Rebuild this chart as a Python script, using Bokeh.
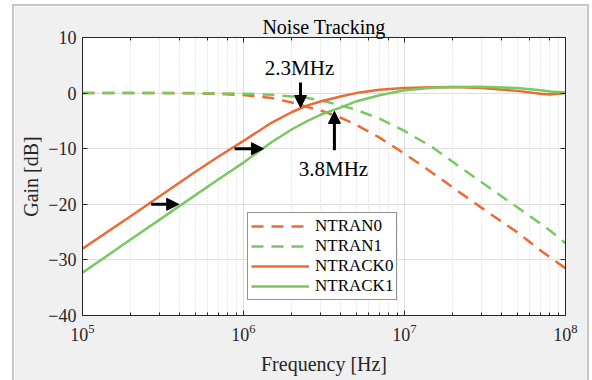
from bokeh.plotting import figure
from bokeh.models import (Range1d, FixedTicker, LinearAxis, LogAxis, Legend, LegendItem,
                          Arrow, NormalHead, Label)
from bokeh.embed import file_html
from bokeh.resources import INLINE

# ---- data ----
freq_hz = [1e5, 2e5, 3e5, 5e5, 7e5, 1e6, 1.5e6, 2e6, 2.5e6, 3e6, 4e6, 5e6, 7e6,
           1e7, 1.5e7, 2e7, 3e7, 5e7, 7e7, 8e7, 1e8]
ntran0 = [0.0, 0.0, 0.0, -0.05, -0.15, -0.35, -0.9, -1.7, -2.5, -3.1, -4.4, -5.7, -8.0,
          -10.9, -14.4, -17.0, -20.6, -25.0, -28.3, -29.5, -31.5]
ntran1 = [0.0, 0.0, 0.0, 0.0, -0.05, -0.1, -0.3, -0.6, -0.9, -1.3, -2.2, -3.0, -4.6,
          -6.8, -9.8, -12.4, -16.0, -20.5, -23.5, -24.7, -27.0]
ntrack0 = [-28.0, -22.1, -18.6, -14.2, -11.4, -8.6, -5.3, -3.4, -2.2, -1.5, -0.6, 0.0, 0.6,
           0.9, 1.05, 1.1, 0.9, 0.4, -0.1, -0.25, 0.0]
ntrack1 = [-32.3, -26.3, -22.8, -18.4, -15.5, -12.5, -8.8, -6.5, -5.0, -3.9, -2.6, -1.5, -0.4,
           0.5, 0.95, 1.1, 1.15, 0.9, 0.5, 0.3, 0.1]
series_names = ["NTRAN0", "NTRAN1", "NTRACK0", "NTRACK1"]
y_ticks = [-40, -30, -20, -10, 0, 10]

# annotation arrows: (f_start, dB_start, f_end, dB_end)
arrows = [
    (2.26e6, 1.9, 2.26e6, -2.6),
    (3.67e6, -10.3, 3.67e6, -3.3),
    (8.8e5, -10.0, 1.33e6, -10.0),
    (2.67e5, -20.0, 3.96e5, -20.0),
]
# annotation texts: (text, f, dB)
notes = [("2.3MHz", 2.23e6, 4.6), ("3.8MHz", 3.62e6, -13.6)]

ORANGE = "#ee6a34"
GREEN = "#7ac861"
AX = "#262626"
FONT = "'Liberation Serif', 'Times New Roman', 'DejaVu Serif', serif"

p = figure(width=573, height=374, x_axis_type="log",
           x_range=Range1d(1e5, 1e8), y_range=Range1d(-40, 10),
           output_backend="svg", toolbar_location=None,
           min_border_left=68, min_border_right=22, min_border_top=31, min_border_bottom=65,
           border_fill_color="#f0f0f0", background_fill_color="white",
           outline_line_color=AX, outline_line_width=1,
           margin=(6, 5, 0, 14), styles={"outline": "2px solid #c6c6c6"})

p.title.text = "Noise Tracking"
p.title.align = "center"
p.title.text_font = FONT
p.title.text_font_size = "20px"
p.title.text_font_style = "normal"
p.title.text_color = "black"
p.title.standoff = 0

# axes
p.yaxis.ticker = FixedTicker(ticks=y_ticks)
p.ygrid.ticker = FixedTicker(ticks=y_ticks)
for ax in (p.xaxis[0], p.yaxis[0]):
    ax.axis_line_color = AX
    ax.major_tick_line_color = AX
    ax.minor_tick_line_color = AX
    ax.major_tick_in = 5
    ax.major_tick_out = 0
    ax.minor_tick_in = 3
    ax.minor_tick_out = 0
    ax.major_label_text_font = FONT
    ax.major_label_text_font_size = "18px"
    ax.major_label_text_color = AX
    ax.axis_label_text_font = FONT
    ax.axis_label_text_font_size = "20px"
    ax.axis_label_text_font_style = "normal"
    ax.axis_label_text_color = AX
p.yaxis.minor_tick_line_color = None
p.xaxis.axis_label = "Frequency [Hz]"
p.yaxis.axis_label = "Gain [dB]"
p.xaxis.major_label_standoff = 8
p.xaxis.axis_label_standoff = 9
p.yaxis.major_label_standoff = 6
p.yaxis.axis_label_standoff = 3

right = LinearAxis(ticker=FixedTicker(ticks=y_ticks), major_label_text_font_size="2px",
                   major_label_text_color=None, major_label_standoff=0,
                   major_tick_in=5, major_tick_out=0,
                   minor_tick_line_color=None, axis_line_color=AX, major_tick_line_color=AX)
p.add_layout(right, "right")
top = LogAxis(major_label_text_font_size="2px", major_label_text_color=None,
              major_label_standoff=0,
              major_tick_in=5, major_tick_out=0, minor_tick_in=3, minor_tick_out=0,
              axis_line_color=AX, major_tick_line_color=AX, minor_tick_line_color=AX)
p.add_layout(top, "above")

# grids
p.xgrid.grid_line_color = "#dedede"
p.ygrid.grid_line_color = "#dedede"
p.xgrid.minor_grid_line_color = "#d4d4d4"
p.xgrid.minor_grid_line_dash = "1 2"

# lines
r0 = p.line(freq_hz, ntran0, line_color=ORANGE, line_width=2.5, line_dash="12 8")
r1 = p.line(freq_hz, ntran1, line_color=GREEN, line_width=2.5, line_dash="12 8")
r2 = p.line(freq_hz, ntrack0, line_color=ORANGE, line_width=2.5)
r3 = p.line(freq_hz, ntrack1, line_color=GREEN, line_width=2.5)

legend = Legend(items=[LegendItem(label=n, renderers=[r]) for n, r in
                       zip(series_names, [r0, r1, r2, r3])],
                location=(165, 15), orientation="vertical",
                label_text_font=FONT, label_text_font_size="17px", label_text_color="black",
                glyph_width=58, glyph_height=20, label_height=20, label_standoff=6,
                padding=3, spacing=0, margin=0,
                border_line_color=AX, border_line_width=1,
                background_fill_color="white", background_fill_alpha=1.0)
p.add_layout(legend)

for xs, ys, xe, ye in arrows:
    p.add_layout(Arrow(end=NormalHead(size=12, fill_color="black", line_color="black", line_width=1),
                       x_start=xs, y_start=ys, x_end=xe, y_end=ye,
                       line_color="black", line_width=3))

for t, fx, dy in notes:
    p.add_layout(Label(x=fx, y=dy, text=t, text_font=FONT, text_font_size="21px",
                       text_align="center", text_baseline="middle", text_color="black"))

open("out.html", "w").write(file_html(p, INLINE, "Noise Tracking"))
